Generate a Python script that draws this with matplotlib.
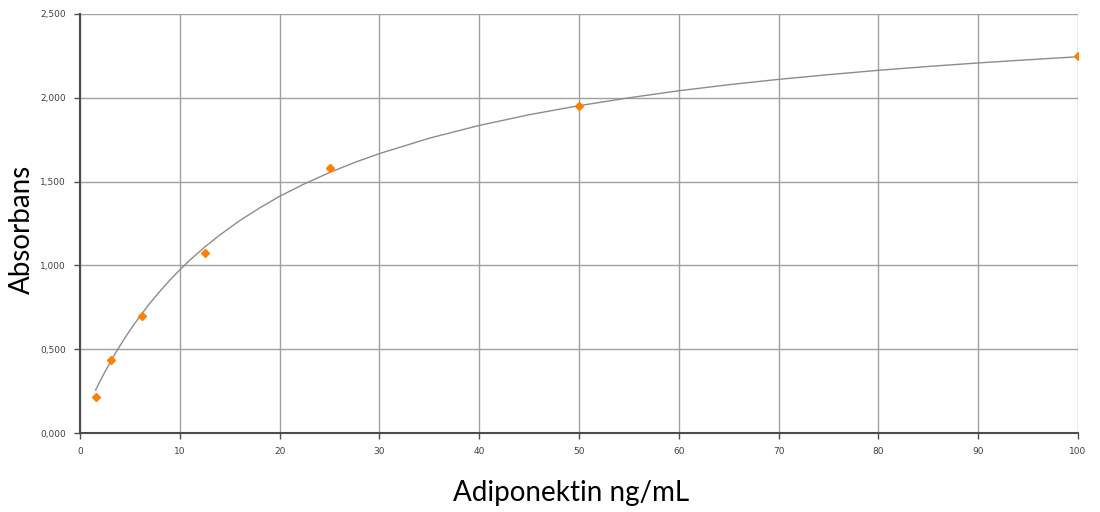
import matplotlib
matplotlib.use("Agg")
import matplotlib.pyplot as plt
from matplotlib.ticker import FuncFormatter, MultipleLocator

# Standard points (concentration ng/mL, absorbance)
conc = [1.5625, 3.125, 6.25, 12.5, 25, 50, 100]
absorb = [0.215, 0.436, 0.698, 1.074, 1.581, 1.951, 2.249]

# Fitted curve
curve_x = [1.5625, 2, 2.5, 3.125, 3.5, 4, 4.5, 5, 5.5, 6.25, 7, 8, 9, 10, 11,
           12.5, 14, 16, 18, 20, 22.5, 25, 27.5, 30, 35, 40, 45, 50, 55, 60,
           65, 70, 75, 80, 85, 90, 95, 100]
curve_y = [0.256, 0.308, 0.365, 0.432, 0.471, 0.520, 0.567, 0.612, 0.655,
           0.716, 0.774, 0.845, 0.912, 0.973, 1.031, 1.110, 1.181, 1.267,
           1.343, 1.412, 1.487, 1.554, 1.614, 1.667, 1.759, 1.835, 1.899,
           1.953, 2.000, 2.042, 2.078, 2.110, 2.138, 2.164, 2.187, 2.208,
           2.227, 2.245]

fig = plt.figure(figsize=(11, 5.12), dpi=100)
ax = fig.add_axes([80/1100, 79/512, (1078-80)/1100, (433-14)/512])

ax.plot(curve_x, curve_y, color="#8c8c8c", lw=1.0, zorder=3)
ax.plot(conc, absorb, linestyle="none", marker="D", markersize=4,
        color="#ff8000", markeredgecolor="#ff8000", zorder=4)

ax.set_xlim(0, 100)
ax.set_ylim(0, 2.5)
ax.xaxis.set_major_locator(MultipleLocator(10))
ax.yaxis.set_major_locator(MultipleLocator(0.5))
ax.yaxis.set_major_formatter(FuncFormatter(lambda v, p: f"{v:.3f}".replace(".", ",")))

ax.grid(True, color="#a0a0a0", lw=1.0)
ax.set_axisbelow(True)
for s in ["top", "right"]:
    ax.spines[s].set_visible(False)
for s in ["left", "bottom"]:
    ax.spines[s].set_color("#4d4d4d")
    ax.spines[s].set_linewidth(1.5)
    ax.spines[s].set_zorder(5)

ax.tick_params(axis="both", direction="out", length=4, width=1, color="#4d4d4d",
               labelsize=6.5, labelcolor="#404040", pad=6)

ax.set_xlabel("Adiponektin ng/mL", fontsize=20, family=["Lato", "DejaVu Sans"])
ax.set_ylabel("Absorbans", fontsize=20, family=["Lato", "DejaVu Sans"])
ax.xaxis.set_label_coords((571-80)/998, -(493-433)/419, transform=ax.transAxes)
ax.yaxis.set_label_coords(-(80-22)/998, (433-229)/419, transform=ax.transAxes)
ax.xaxis.label.set_va("center")
ax.yaxis.label.set_va("center")

fig.savefig("out.png", dpi=100, facecolor="white")
